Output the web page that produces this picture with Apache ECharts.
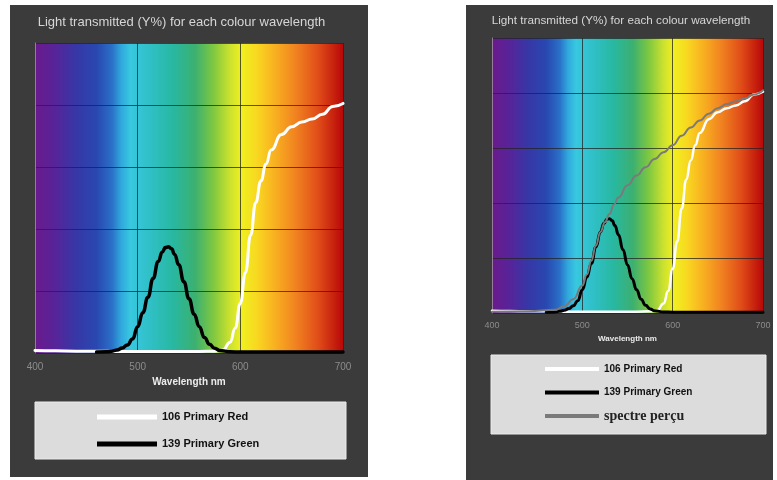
<!DOCTYPE html>
<html>
<head>
<meta charset="utf-8">
<script src="https://cdn.jsdelivr.net/npm/echarts@6/dist/echarts.min.js"></script>
<style>
  html, body { margin: 0; padding: 0; background: #ffffff; }
  #chart { width: 777px; height: 480px; }
</style>
</head>
<body>
<div id="chart"></div>
<script>
// Transmission curves (Y %) against wavelength (nm)
const titleText = 'Light transmitted (Y%) for each colour wavelength';
const axisName = 'Wavelength nm';
const wavelengthTicks = [400, 500, 600, 700];

const redName = '106 Primary Red';
const redWavelengths = [400, 420, 440, 460, 480, 500, 520, 540, 560, 575, 583, 590, 595, 600, 605, 610, 615, 620, 625, 630, 640, 650, 660, 670, 680, 690, 700];
const redValues      = [0.8, 0.7, 0.6, 0.6, 0.5, 0.5, 0.5, 0.5, 0.5, 0.6, 1, 3.5, 8, 16, 26, 38, 48.5, 55.5, 61, 65.5, 70.5, 73, 74.5, 75.5, 77, 79.5, 80.5];

const greenName = '139 Primary Green';
const greenWavelengths = [460, 470, 475, 480, 485, 490, 495, 500, 505, 510, 515, 520, 524, 527, 530, 533, 536, 540, 545, 550, 555, 560, 565, 570, 575, 580, 590, 600, 650, 700];
const greenValues      = [0.3, 0.4, 0.6, 1.0, 1.6, 2.6, 4.5, 8.5, 13, 18, 24, 29.5, 32.6, 34, 34.3, 33.6, 31.8, 28.5, 23, 17.5, 12.5, 8.5, 5, 2.8, 1.5, 0.8, 0.4, 0.3, 0.3, 0.3];

const perceivedName = 'spectre perçu';
const perceivedWavelengths = [400, 440, 470, 480, 490, 500, 505, 510, 515, 520, 525, 530, 535, 540, 550, 560, 570, 580, 590, 600, 610, 620, 630, 640, 650, 660, 670, 680, 690, 700];
const perceivedValues      = [0.5, 0.6, 1.2, 2.5, 5, 10, 14, 19, 24.5, 29.5, 33, 36, 39.5, 42, 46.5, 50, 53, 56, 58.5, 61, 64.5, 67.5, 70, 72.5, 74.5, 76, 77, 78, 79.5, 81];

function pairs(xs, ys) { return xs.map((x, i) => [x, ys[i]]); }

const chart = echarts.init(document.getElementById('chart'), null, { renderer: 'canvas' });

function spectrum() {
  return new echarts.graphic.LinearGradient(0, 0, 1, 0, [
    { offset: 0.00, color: '#6a1a8c' },
    { offset: 0.07, color: '#55259a' },
    { offset: 0.13, color: '#3836a6' },
    { offset: 0.20, color: '#2848b0' },
    { offset: 0.25, color: '#2a70c8' },
    { offset: 0.28, color: '#30a8dc' },
    { offset: 0.31, color: '#38c8e0' },
    { offset: 0.37, color: '#30c0c8' },
    { offset: 0.45, color: '#28b8a0' },
    { offset: 0.52, color: '#3cb070' },
    { offset: 0.58, color: '#80c840' },
    { offset: 0.63, color: '#c8e030' },
    { offset: 0.67, color: '#f0f020' },
    { offset: 0.72, color: '#f8d820' },
    { offset: 0.78, color: '#f8b020' },
    { offset: 0.85, color: '#f08020' },
    { offset: 0.92, color: '#e04c18' },
    { offset: 1.00, color: '#b80808' }
  ]);
}

const sans = '"Liberation Sans", Arial, sans-serif';

function xAxisFor(gridIndex, fontSize, margin, nameSize, nameGap) {
  return {
    gridIndex, type: 'value', min: 400, max: 700, interval: 100, z: 1,
    name: axisName, nameLocation: 'middle', nameGap,
    nameTextStyle: { color: '#ececec', fontSize: nameSize, fontWeight: 'bold', fontFamily: sans },
    axisLine: { show: false }, axisTick: { show: false },
    axisLabel: { color: '#8c8c8c', fontSize, margin, fontFamily: sans,
      formatter: v => (wavelengthTicks.indexOf(v) >= 0 ? String(v) : '') },
    splitLine: { show: true, lineStyle: { color: 'rgba(35,35,35,0.75)', width: 1 } }
  };
}
function yAxisFor(gridIndex) {
  return {
    gridIndex, type: 'value', min: 0, max: 100, interval: 20, z: 1,
    axisLine: { show: true, lineStyle: { color: 'rgba(230,200,230,0.55)', width: 1 } },
    axisTick: { show: false }, axisLabel: { show: false },
    splitLine: { show: true, lineStyle: { color: 'rgba(35,35,35,0.75)', width: 1 } }
  };
}
function curve(name, xs, ys, axis, color, width) {
  return {
    name, type: 'line', xAxisIndex: axis, yAxisIndex: axis,
    data: pairs(xs, ys), showSymbol: false, symbol: 'none',
    smooth: true, smoothMonotone: 'x', color,
    lineStyle: { color, width, cap: 'round', join: 'round' }, z: 2, silent: true
  };
}

chart.setOption({
  animation: false,
  backgroundColor: '#ffffff',
  graphic: [
    { type: 'rect', z: -10, shape: { x: 10, y: 5, width: 358, height: 472 }, style: { fill: '#3b3b3b' } },
    { type: 'rect', z: -10, shape: { x: 466, y: 5, width: 307, height: 475 }, style: { fill: '#3b3b3b' } },
    { type: 'rect', z: -5, shape: { x: 35, y: 402, width: 311, height: 57 }, style: { fill: '#dcdcdc', stroke: '#ececec', lineWidth: 1 } },
    { type: 'rect', z: -5, shape: { x: 491, y: 355, width: 275, height: 79 }, style: { fill: '#dcdcdc', stroke: '#ececec', lineWidth: 1 } }
  ],
  title: [
    { text: titleText, left: 181.5, top: 16, textAlign: 'center', padding: 0,
      textStyle: { color: '#d6d6d6', fontSize: 13, fontWeight: 'normal', fontFamily: sans } },
    { text: titleText, left: 621, top: 15, textAlign: 'center', padding: 0,
      textStyle: { color: '#d6d6d6', fontSize: 11.7, fontWeight: 'normal', fontFamily: sans } }
  ],
  legend: [
    { orient: 'vertical', left: 97, top: 410, padding: 0, itemWidth: 60, itemHeight: 5, itemGap: 13,
      icon: 'rect', selectedMode: false, data: [redName, greenName],
      textStyle: { color: '#111', fontSize: 11, fontWeight: 'bold', lineHeight: 14, fontFamily: sans } },
    { orient: 'vertical', left: 545, top: 362, padding: 0, itemWidth: 54, itemHeight: 4, itemGap: 9.5,
      icon: 'rect', selectedMode: false, data: [redName, greenName, perceivedName],
      formatter: n => (n === perceivedName ? '{s|' + n + '}' : n),
      textStyle: { color: '#111', fontSize: 10, fontWeight: 'bold', lineHeight: 14, fontFamily: sans,
        rich: { s: { fontFamily: '"Liberation Serif", "Times New Roman", serif', fontSize: 14, fontWeight: 'bold', color: '#222', lineHeight: 14 } } } }
  ],
  grid: [
    { left: 35, top: 43, width: 308, height: 310, show: true, backgroundColor: spectrum(), borderWidth: 0 },
    { left: 492, top: 38, width: 271, height: 275, show: true, backgroundColor: spectrum(), borderWidth: 0 }
  ],
  xAxis: [xAxisFor(0, 10, 9, 10, 24), xAxisFor(1, 9, 8, 8, 21)],
  yAxis: [yAxisFor(0), yAxisFor(1)],
  series: [
    curve(redName, redWavelengths, redValues, 0, '#ffffff', 3),
    curve(greenName, greenWavelengths, greenValues, 0, '#000000', 3.5),
    curve(redName, redWavelengths, redValues, 1, '#ffffff', 2.5),
    curve(greenName, greenWavelengths, greenValues, 1, '#000000', 3),
    curve(perceivedName, perceivedWavelengths, perceivedValues, 1, '#7a7a7a', 2)
  ]
});
</script>
</body>
</html>
